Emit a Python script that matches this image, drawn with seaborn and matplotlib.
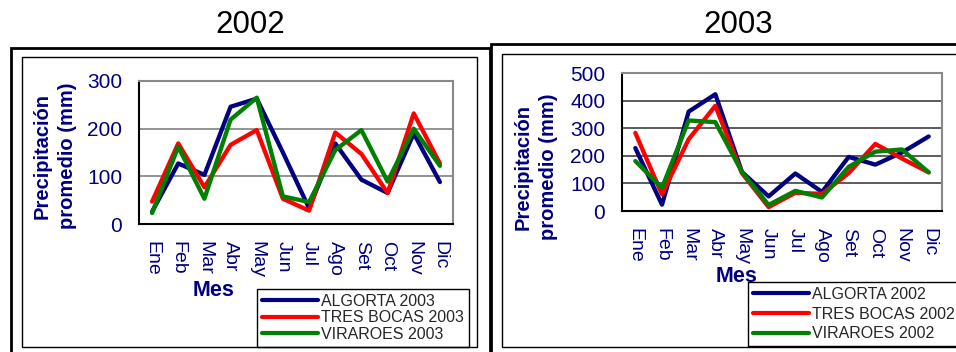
import numpy as np
import pandas as pd
import matplotlib
matplotlib.use("Agg")
import matplotlib.pyplot as plt
from matplotlib.patches import Rectangle
import seaborn as sns

# Monthly categories
meses = ["Ene", "Feb", "Mar", "Abr", "May", "Jun", "Jul", "Ago", "Set", "Oct", "Nov", "Dic"]

# Panel "2002" (series labelled 2003 in its legend)
algorta_a = [26, 127, 103, 246, 263, 150, 33, 169, 93, 65, 190, 88]
tresbocas_a = [47, 169, 77, 166, 197, 53, 28, 192, 147, 65, 232, 127]
viraroes_a = [23, 162, 53, 219, 265, 58, 46, 155, 197, 89, 200, 122]
series_a = ["ALGORTA 2003", "TRES BOCAS 2003", "VIRAROES 2003"]

# Panel "2003" (series labelled 2002 in its legend)
algorta_b = [228, 23, 360, 423, 141, 53, 136, 69, 196, 168, 212, 270]
tresbocas_b = [283, 60, 260, 381, 137, 14, 66, 62, 137, 243, 190, 140]
viraroes_b = [181, 84, 328, 322, 141, 22, 73, 49, 160, 215, 223, 140]
series_b = ["ALGORTA 2002", "TRES BOCAS 2002", "VIRAROES 2002"]

colores = ["#000080", "#FF0000", "#008000"]

sns.set_style("white")
plt.rcParams["font.family"] = ["Liberation Sans", "DejaVu Sans"]

W, H = 956, 352
fig = plt.figure(figsize=(W / 100, H / 100), dpi=100)


def fx(px):
    return px / W


def fy(py):
    return 1 - py / H


def long_frame(names, values):
    rows = []
    for name, vals in zip(names, values):
        for i, v in enumerate(vals):
            rows.append({"mes": i, "precip": v, "serie": name})
    return pd.DataFrame(rows)


navy = "#000080"


def panel(rect, names, values, ymax, grid_color, legend_xy, label_spacing):
    ax = fig.add_axes(rect)
    df = long_frame(names, values)
    sns.lineplot(data=df, x="mes", y="precip", hue="serie", hue_order=names,
                 palette=dict(zip(names, colores)), linewidth=3.1, ax=ax)
    ax.set_xlim(-0.5, 11.5)
    ax.set_ylim(0, ymax)
    ax.set_yticks(np.arange(0, ymax + 1, 100))
    ax.set_xticks(range(12))
    ax.set_xticklabels(meses, rotation=-90, color=navy, fontsize=14)
    ax.set_xticks(np.arange(-0.5, 12, 1), minor=True)
    ax.tick_params(axis="x", which="major", length=0, pad=12)
    ax.tick_params(axis="x", which="minor", length=5, width=1.2, color="black", direction="out")
    ax.tick_params(axis="y", length=6, width=1.2, color="black", direction="out",
                   labelsize=15, labelcolor=navy, pad=6)
    ax.set_xlabel("")
    ax.set_ylabel("")
    ax.yaxis.grid(True, color=grid_color, linewidth=1.2)
    ax.set_axisbelow(True)
    for s in ("left", "bottom"):
        ax.spines[s].set_color("black")
        ax.spines[s].set_linewidth(1.5)
    for s in ("top", "right"):
        ax.spines[s].set_color("#888888")
        ax.spines[s].set_linewidth(1.5)
    handles, labels = ax.get_legend_handles_labels()
    leg = ax.legend(handles, labels, loc="upper left", bbox_to_anchor=legend_xy,
                    bbox_transform=fig.transFigure, frameon=True, fancybox=False,
                    framealpha=1, edgecolor="black", fontsize=11.5, handlelength=3.5,
                    handletextpad=0.2, labelspacing=label_spacing, borderpad=0.3,
                    borderaxespad=0)
    leg.get_frame().set_linewidth(1.0)
    for ln in leg.get_lines():
        ln.set_linewidth(3)
    return ax


ax1 = panel([fx(139), fy(224), fx(453 - 139), (224 - 81) / H],
            series_a, [algorta_a, tresbocas_a, viraroes_a], 300, "#808080",
            (fx(257), fy(289)), 0.1)
ax2 = panel([fx(622), fy(211), fx(942 - 622), (211 - 73) / H],
            series_b, [algorta_b, tresbocas_b, viraroes_b], 500, "#404040",
            (fx(748), fy(282)), 0.3)

# Titles
fig.text(fx(250), fy(25), "2002", ha="center", va="center", fontsize=22.5, color="black")
fig.text(fx(738), fy(25), "2003", ha="center", va="center", fontsize=22.5, color="black")

# Axis titles
ylab = "Precipitación\npromedio (mm)"
for xc, yc in ((55, 156), (536, 167)):
    fig.text(fx(xc), fy(yc), ylab, rotation=90, ha="center", va="center",
             fontsize=14.5, fontweight="bold", color=navy, linespacing=1.45,
             multialignment="center")
for xc, yc in ((214, 290), (737, 276)):
    fig.text(fx(xc), fy(yc), "Mes", ha="center", va="center", fontsize=15.5,
             fontweight="bold", color=navy)

# Chart frames
frames = [
    ((11, 48), 479, 320, 2.0),
    ((491, 44), 480, 320, 2.0),
    ((22, 57), 455, 290, 1.0),
    ((502, 54), 455, 293, 1.0),
]
for (x0, y0), w, h, lw in frames:
    fig.patches.append(Rectangle((fx(x0), fy(y0 + h)), w / W, h / H,
                                 transform=fig.transFigure, fill=False,
                                 edgecolor="black", linewidth=lw, zorder=0))

fig.savefig("out.png", dpi=100)
